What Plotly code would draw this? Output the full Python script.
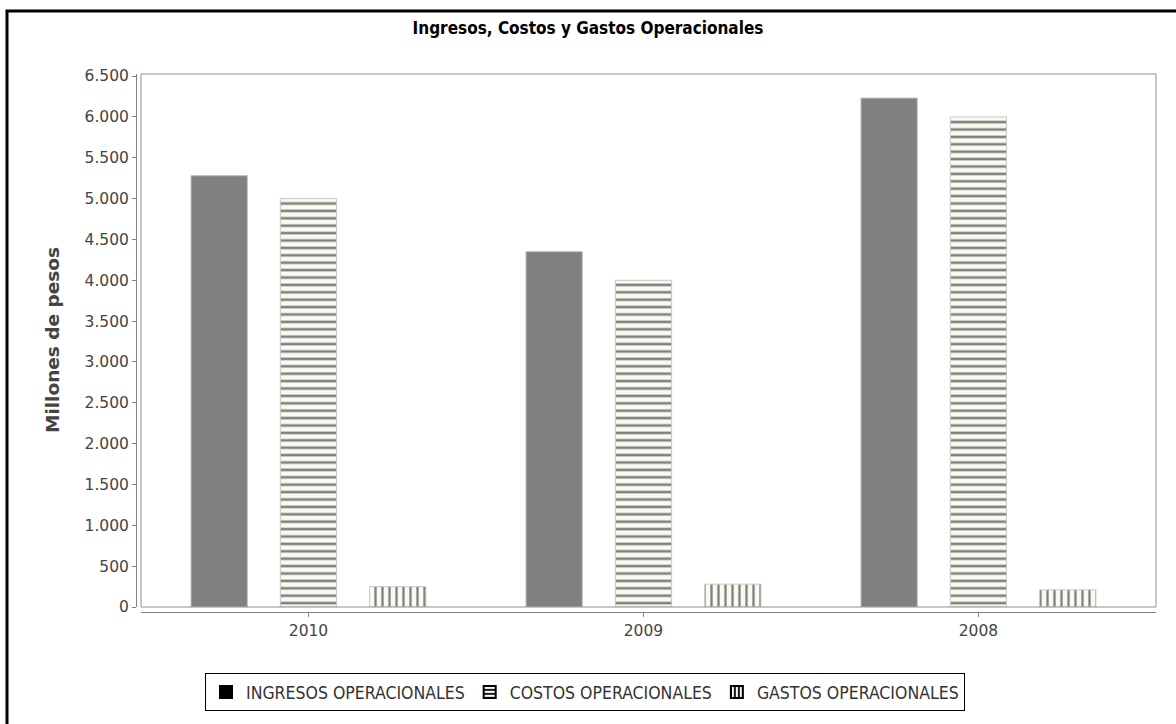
import plotly.graph_objects as go

years = ["2010", "2009", "2008"]
ingresos = [5280, 4350, 6230]
costos = [5000, 4000, 6000]
gastos = [250, 280, 210]
y_ticks = [0, 500, 1000, 1500, 2000, 2500, 3000, 3500, 4000, 4500, 5000, 5500, 6000, 6500]

W, H = 1176, 724
L, R, T, B = 136, 20, 74, 112
COND = "DejaVu Sans Condensed, Liberation Sans Narrow, DejaVu Sans"


def px(x):
    return (x - L) / (W - L - R)


def py(y):
    return (H - B - y) / (H - T - B)


fig = go.Figure()

# real bars (no legend)
fig.add_bar(x=years, y=ingresos, name="INGRESOS OPERACIONALES", offsetgroup="a", showlegend=False,
            marker=dict(color="#808080", line=dict(color="#bdbdbd", width=1)))
fig.add_bar(x=years, y=costos, name="COSTOS OPERACIONALES", offsetgroup="b", showlegend=False,
            marker=dict(color="#fafaf0", line=dict(color="#c8c8c8", width=1),
                        pattern=dict(shape="-", fgcolor="#808080", bgcolor="#fafaf0",
                                     size=7.4, solidity=0.35, fillmode="replace")))
fig.add_bar(x=years, y=gastos, name="GASTOS OPERACIONALES", offsetgroup="c", showlegend=False,
            marker=dict(color="#fafaf0", line=dict(color="#c8c8c8", width=1),
                        pattern=dict(shape="|", fgcolor="#808080", bgcolor="#fafaf0",
                                     size=7, solidity=0.33, fillmode="replace")))

# legend entries (black symbols like the original)
fig.add_bar(x=[None], y=[None], name="INGRESOS OPERACIONALES", offsetgroup="a",
            marker=dict(color="#000000", line=dict(color="#000000", width=1)))
fig.add_bar(x=[None], y=[None], name="COSTOS OPERACIONALES", offsetgroup="b",
            marker=dict(color="#fafaf0", line=dict(color="#000000", width=1),
                        pattern=dict(shape="-", fgcolor="#000000", bgcolor="#fafaf0",
                                     size=5, solidity=0.45, fillmode="replace")))
fig.add_bar(x=[None], y=[None], name="GASTOS OPERACIONALES", offsetgroup="c",
            marker=dict(color="#fafaf0", line=dict(color="#000000", width=1),
                        pattern=dict(shape="|", fgcolor="#000000", bgcolor="#fafaf0",
                                     size=5, solidity=0.45, fillmode="replace")))

fig.update_layout(
    width=W, height=H,
    margin=dict(l=L, r=R, t=T, b=B),
    paper_bgcolor="white", plot_bgcolor="white",
    barmode="group", bargap=0.2, bargroupgap=0.37,
    separators=",.",
    font=dict(family="DejaVu Sans", size=15, color="#444444"),
    title=dict(text="<b>Ingresos, Costos y Gastos Operacionales</b>", x=0.5, xref="container",
               y=1 - 28 / H, yref="container", xanchor="center", yanchor="middle",
               font=dict(family=COND, size=17, color="#000000")),
    xaxis=dict(domain=[px(141), 1], range=[-0.5, 2.53], anchor="free", position=0,
               showline=True, linecolor="#808080", linewidth=1,
               ticks="outside", ticklen=4, tickcolor="#808080",
               showgrid=False, zeroline=False,
               tickfont=dict(size=15.5, color="#444444")),
    yaxis=dict(domain=[py(607), 1], range=[0, 6525], anchor="free", position=0,
               showline=True, linecolor="#808080", linewidth=1,
               ticks="outside", ticklen=4, tickcolor="#808080",
               tickvals=y_ticks, tickformat=",d",
               showgrid=False, zeroline=False,
               tickfont=dict(size=15.5, color="#444444")),
    legend=dict(orientation="h", x=px(585), xanchor="center", y=py(692), yanchor="middle",
                bordercolor="#000000", borderwidth=1, bgcolor="white",
                font=dict(family=COND, size=17.5, color="#333333"),
                itemsizing="constant", traceorder="normal"),
)

# plot area border
fig.add_shape(type="rect", xref="x domain", yref="y domain", x0=0, x1=1, y0=0, y1=1,
              line=dict(color="#909090", width=1), layer="above")

# outer frame (top and left black edges)
fig.add_shape(type="path", xref="paper", yref="paper",
              path=f"M {px(7)},{py(H + 5)} L {px(7)},{py(11)} L {px(W + 5)},{py(11)}",
              line=dict(color="#000000", width=3))

fig.add_annotation(text="<b>Millones de pesos</b>", xref="paper", yref="paper",
                   x=px(52), y=py(340), textangle=-90, showarrow=False,
                   xanchor="center", yanchor="middle",
                   font=dict(family="DejaVu Sans", size=18.5, color="#444444"))

fig.write_html("out.html", config={"displayModeBar": False},
               post_script="document.body.style.margin='0';")
